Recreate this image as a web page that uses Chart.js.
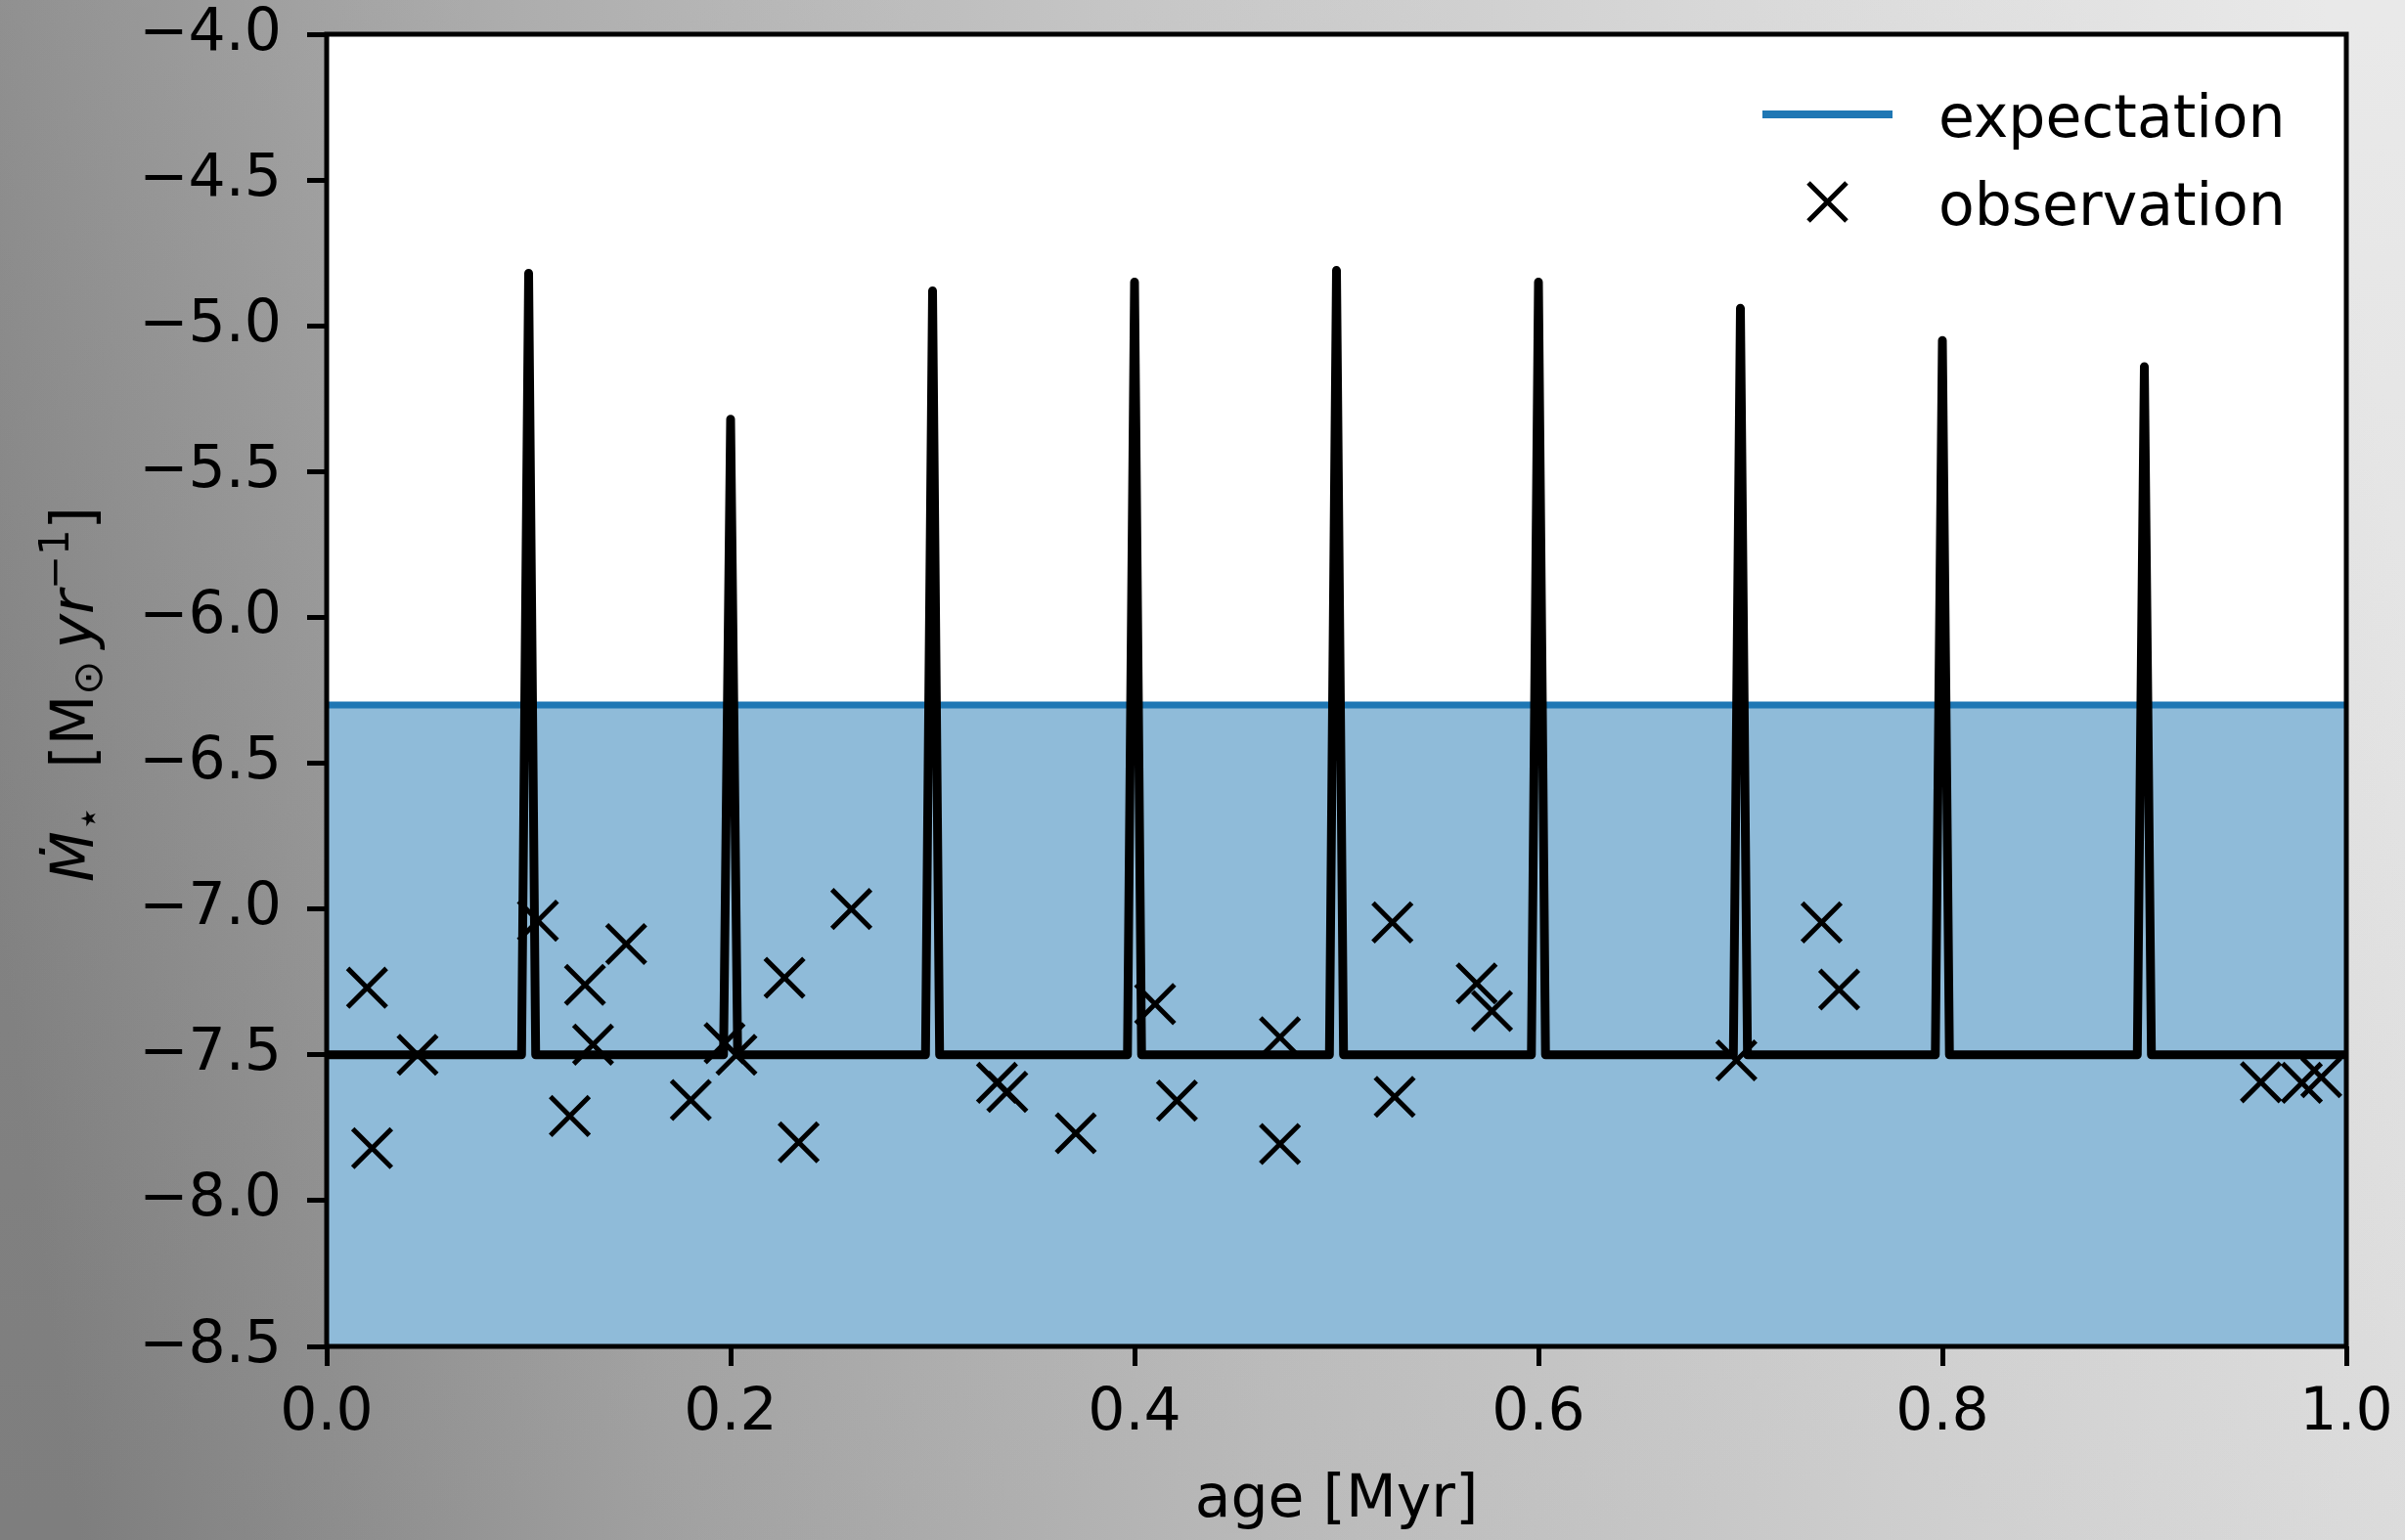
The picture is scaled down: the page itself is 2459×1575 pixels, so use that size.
<!DOCTYPE html>
<html>
<head>
<meta charset="utf-8">
<script src="https://cdn.jsdelivr.net/npm/chart.js@4/dist/chart.umd.min.js"></script>
<style>
  html, body { margin: 0; padding: 0; }
  #wrap { width: 2459px; height: 1575px; }
</style>
</head>
<body>
<div id="wrap"><canvas id="accretionChart" width="2459" height="1575"></canvas></div>
<script>
// values
const xTicks = [0.0, 0.2, 0.4, 0.6, 0.8, 1.0];
const yTicks = [-8.5, -8.0, -7.5, -7.0, -6.5, -6.0, -5.5, -5.0, -4.5, -4.0];

const expectationLevel = -6.3;
const quiescentRate = -7.5;

// burst ages and peak rates
const burstAge = [0.1, 0.2, 0.3, 0.4, 0.5, 0.6, 0.7, 0.8, 0.9];
const burstPeak = [-4.82, -5.32, -4.88, -4.85, -4.81, -4.85, -4.94, -5.05, -5.14];
const burstHalfWidth = 0.0035;

// observed points
const obsAge = [0.020, 0.0225, 0.045, 0.1046, 0.1204, 0.1279, 0.1319, 0.1483, 0.1803, 0.197,
  0.2029, 0.2267, 0.2337, 0.2598, 0.3319, 0.337, 0.3709, 0.4102, 0.421, 0.472,
  0.472, 0.5277, 0.5288, 0.5694, 0.577, 0.698, 0.7402, 0.7489, 0.9577, 0.978, 0.9876];
const obsRate = [-7.27, -7.82, -7.50, -7.04, -7.71, -7.26, -7.465, -7.12, -7.655, -7.46,
  -7.50, -7.236, -7.80, -7.00, -7.596, -7.627, -7.769, -7.326, -7.657, -7.44,
  -7.806, -7.046, -7.644, -7.255, -7.35, -7.519, -7.046, -7.276, -7.594, -7.596, -7.577];

// build the burst curve: flat, then a narrow spike at each burst age
let curve = [{x: xTicks[0], y: quiescentRate}];
burstAge.forEach(function (a, i) {
  curve.push({x: a - burstHalfWidth, y: quiescentRate});
  curve.push({x: a, y: burstPeak[i]});
  curve.push({x: a + burstHalfWidth, y: quiescentRate});
});
curve.push({x: xTicks[xTicks.length - 1], y: quiescentRate});

const observations = obsAge.map(function (a, i) { return {x: a, y: obsRate[i]}; });

const FONT = '"DejaVu Sans", "Liberation Sans", sans-serif';
Chart.defaults.font.family = FONT;
Chart.defaults.font.size = 60;
Chart.defaults.color = '#000';

function fmt(v) {
  return (v < 0 ? '\u2212' : '') + Math.abs(v).toFixed(1);
}

// background, white axes face, frame, legend and axis titles
const decor = {
  id: 'decor',
  beforeDraw(chart) {
    const ctx = chart.ctx, w = chart.width, h = chart.height, a = chart.chartArea;
    ctx.save();
    let g = ctx.createLinearGradient(0, h * 0.6, w, h * 0.4);
    g.addColorStop(0, '#838383');
    g.addColorStop(0.25, '#a8a8a8');
    g.addColorStop(0.5, '#c2c2c2');
    g.addColorStop(0.75, '#d6d6d6');
    g.addColorStop(1, '#e8e8e8');
    ctx.fillStyle = g;
    ctx.fillRect(0, 0, w, h);
    let v = ctx.createLinearGradient(0, 0, 0, h);
    v.addColorStop(0, 'rgba(255,255,255,0.05)');
    v.addColorStop(1, 'rgba(0,0,0,0.04)');
    ctx.fillStyle = v;
    ctx.fillRect(0, 0, w, h);
    ctx.fillStyle = '#fff';
    ctx.fillRect(a.left, a.top, a.right - a.left, a.bottom - a.top);
    ctx.restore();
  },
  afterDatasetsDraw(chart) {
    const ctx = chart.ctx, a = chart.chartArea;
    ctx.save();
    ctx.strokeStyle = '#000';
    ctx.lineWidth = 5;
    ctx.strokeRect(a.left, a.top, a.right - a.left, a.bottom - a.top);

    // legend
    ctx.strokeStyle = '#1f77b4';
    ctx.lineWidth = 8;
    ctx.beginPath();
    ctx.moveTo(1802, 117);
    ctx.lineTo(1935, 117);
    ctx.stroke();
    ctx.strokeStyle = '#000';
    ctx.lineWidth = 5;
    ctx.beginPath();
    ctx.moveTo(1849, 187); ctx.lineTo(1888, 226);
    ctx.moveTo(1888, 187); ctx.lineTo(1849, 226);
    ctx.stroke();
    ctx.fillStyle = '#000';
    ctx.font = '60px ' + FONT;
    ctx.textAlign = 'left';
    ctx.textBaseline = 'alphabetic';
    ctx.fillText('expectation', 1982, 140);
    ctx.fillText('observation', 1982, 230);

    // x title
    ctx.textAlign = 'center';
    ctx.fillText('age [Myr]', (a.left + a.right) / 2, 1551);

    // y title, mathtext-like pieces
    const parts = [
      {t: '\u1E40', it: true, s: 1, dy: 0},
      {t: '\u22C6', it: false, s: 0.7, dy: 9},
      {t: '  [M', it: false, s: 1, dy: 0},
      {t: '\u2299', it: false, s: 0.7, dy: 9},
      {t: '\u2009', it: false, s: 1, dy: 0},
      {t: 'yr', it: true, s: 1, dy: 0},
      {t: '\u22121', it: false, s: 0.7, dy: -25},
      {t: ']', it: false, s: 1, dy: 0}
    ];
    function setFont(p) {
      ctx.font = (p.it ? 'italic ' : '') + Math.round(60 * p.s) + 'px ' + FONT;
    }
    let total = 0;
    parts.forEach(function (p) { setFont(p); p.w = ctx.measureText(p.t).width; total += p.w; });
    ctx.translate(95, 710);
    ctx.rotate(-Math.PI / 2);
    ctx.textAlign = 'left';
    let x = -total / 2;
    parts.forEach(function (p) {
      setFont(p);
      ctx.fillText(p.t, x, p.dy);
      x += p.w;
    });
    ctx.restore();
  }
};

const ctx = document.getElementById('accretionChart').getContext('2d');
const chart = new Chart(ctx, {
  type: 'scatter',
  data: {
    datasets: [
      {
        label: 'expectation',
        data: [{x: xTicks[0], y: expectationLevel}, {x: xTicks[xTicks.length - 1], y: expectationLevel}],
        showLine: true,
        borderColor: '#1f77b4',
        borderWidth: 7,
        backgroundColor: 'rgba(31,119,180,0.5)',
        fill: 'start',
        pointRadius: 0,
        order: 3
      },
      {
        label: 'observation',
        data: observations,
        pointStyle: 'crossRot',
        pointRadius: 28,
        pointBorderWidth: 5,
        pointBorderColor: '#000',
        pointBackgroundColor: '#000',
        pointHoverRadius: 28,
        order: 2
      },
      {
        label: 'burst model',
        data: curve,
        showLine: true,
        borderColor: '#000',
        borderWidth: 9,
        borderJoinStyle: 'round',
        borderCapStyle: 'round',
        pointRadius: 0,
        fill: false,
        order: 1
      }
    ]
  },
  options: {
    responsive: false,
    animation: false,
    devicePixelRatio: 1,
    events: [],
    layout: { padding: { left: 0, top: 35, right: 60, bottom: 0 } },
    plugins: { legend: { display: false }, tooltip: { enabled: false } },
    scales: {
      x: {
        type: 'linear',
        min: 0, max: 1,
        afterFit: function (s) { s.height = 198; s.paddingLeft = 0; s.paddingRight = 0; },
        afterBuildTicks: function (s) { s.ticks = xTicks.map(function (v) { return {value: v}; }); },
        ticks: { padding: 13, callback: function (v) { return v.toFixed(1); }, maxRotation: 0, autoSkip: false },
        grid: { drawOnChartArea: false, drawTicks: true, tickLength: 20, tickWidth: 5, tickColor: '#000' },
        border: { display: false }
      },
      y: {
        type: 'linear',
        min: -8.5, max: -4.0,
        afterFit: function (s) { s.width = 334; s.paddingTop = 0; s.paddingBottom = 0; },
        afterBuildTicks: function (s) { s.ticks = yTicks.map(function (v) { return {value: v}; }); },
        ticks: { padding: 26, callback: fmt, autoSkip: false },
        grid: { drawOnChartArea: false, drawTicks: true, tickLength: 20, tickWidth: 5, tickColor: '#000' },
        border: { display: false }
      }
    }
  },
  plugins: [decor]
});
</script>
</body>
</html>
